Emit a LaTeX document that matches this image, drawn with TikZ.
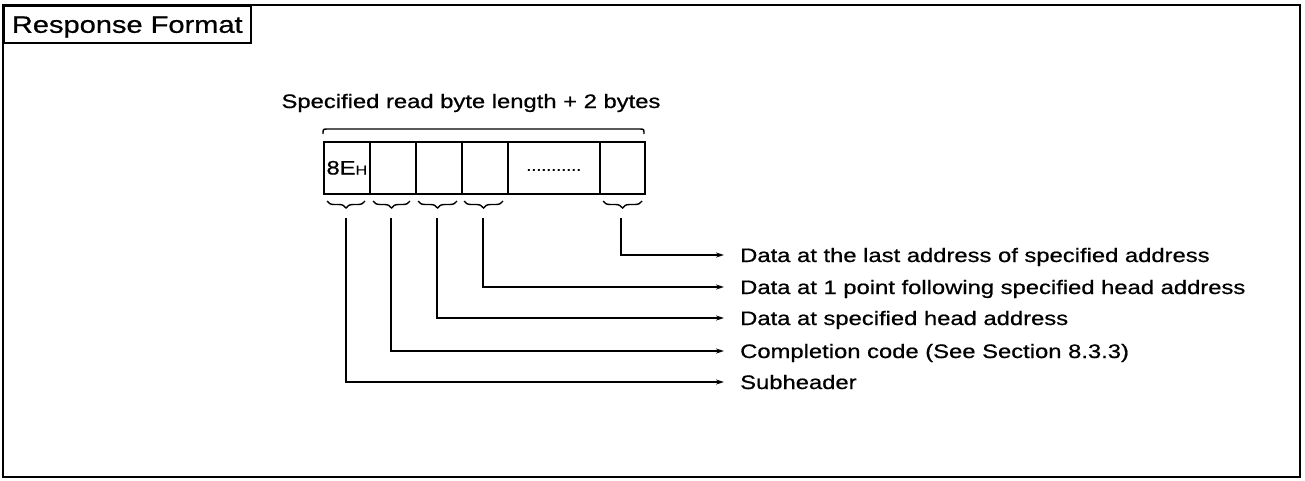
\documentclass[tikz,border=0pt]{standalone}
\usepackage{fontspec}
\setmainfont{Liberation Sans}[FakeStretch=1.22,FakeBold=0.7]
\usetikzlibrary{decorations.pathreplacing,arrows.meta}
\begin{document}
\begin{tikzpicture}[x=1pt,y=-1pt,
  frame/.style={line width=2.2pt},
  cell/.style={draw,line width=1.6pt,minimum height=52pt,inner sep=0pt,anchor=north west},
  lbl/.style={anchor=west,inner sep=0pt,text height=14pt,text depth=0pt,font=\fontsize{19.5}{22}\selectfont},
  conn/.style={line width=1.5pt,-{Stealth[length=8pt,width=5pt]}},
  brc/.style={decorate,decoration={brace,amplitude=7pt,mirror},line width=1.4pt}]
\useasboundingbox (0,0) rectangle (1305,480);
% outer frame and title
\draw[frame] (3,5) rectangle (1300,477);
\node[draw,line width=1.6pt,anchor=north west,minimum width=247pt,minimum height=37pt,inner sep=0pt,
      text height=17pt,text depth=0pt,font=\fontsize{23.8}{26}\selectfont] (title) at (3,5) {Response Format};
% top label and brace
\node[inner sep=0pt,text height=14pt,text depth=0pt,font=\fontsize{19.5}{22}\selectfont] (len) at (471,101) {Specified read byte length + 2 bytes};
\draw[line width=1.4pt] (323,134) .. controls (323,129) .. (328,129) -- (639,129) .. controls (644,129) .. (644,134);
% cells
\node[cell,minimum width=46pt] (c1) at (323,141) {\fontsize{19.5}{20}\selectfont 8E{\fontsize{13}{14}\selectfont H}};
\node[cell,minimum width=46pt] (c2) at (369,141) {};
\node[cell,minimum width=46pt] (c3) at (415,141) {};
\node[cell,minimum width=46pt] (c4) at (461,141) {};
\node[cell,minimum width=92pt] (c5) at (507,141) {\raisebox{-6pt}{\fontsize{14.7}{16}\selectfont ...........}};
\node[cell,minimum width=45pt] (c6) at (599,141) {};
% braces under cells
\draw[brc] (327,201) -- (365,201);
\draw[brc] (373,201) -- (410,201);
\draw[brc] (418,201) -- (457,201);
\draw[brc] (464,201) -- (503,201);
\draw[brc] (603,201) -- (642,201);
\coordinate (t1) at (346,218);
\coordinate (t2) at (391,218);
\coordinate (t3) at (437,218);
\coordinate (t4) at (483,218);
\coordinate (t5) at (621,218);
% labels
\node[lbl] (l1) at (740,255) {Data at the last address of specified address};
\node[lbl] (l2) at (740,287) {Data at 1 point following specified head address};
\node[lbl] (l3) at (740,318) {Data at specified head address};
\node[lbl] (l4) at (740,351) {Completion code (See Section 8.3.3)};
\node[lbl] (l5) at (740,382) {Subheader};
% connectors
\draw[conn] (t5) |- ([xshift=-16pt]l1.west);
\draw[conn] (t4) |- ([xshift=-16pt]l2.west);
\draw[conn] (t3) |- ([xshift=-16pt]l3.west);
\draw[conn] (t2) |- ([xshift=-16pt]l4.west);
\draw[conn] (t1) |- ([xshift=-16pt]l5.west);
\end{tikzpicture}
\end{document}
